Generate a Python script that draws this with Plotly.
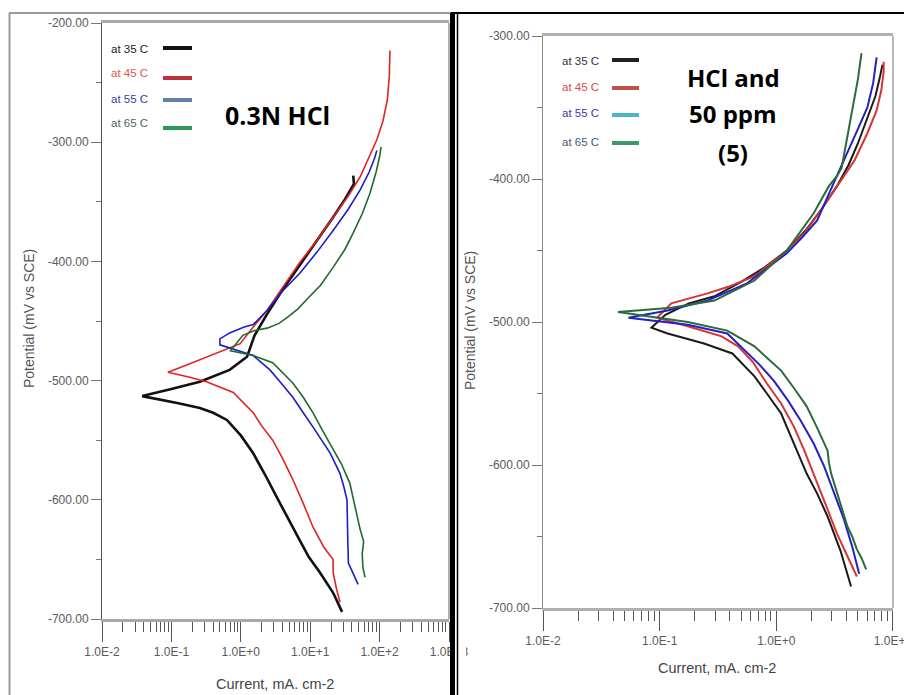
import plotly.graph_objects as go

# page places the figure 8px in from the top-left corner
OFF = 8
W, H = 912 - OFF, 695 - OFF

# ---------------- data (current in mA/cm2, potential in mV vs SCE) ----------------
series_names = ["at 35 C", "at 45 C", "at 55 C", "at 65 C"]

# Left panel: 0.3N HCl
L35_i = [28.8, 21.4, 13.8, 9.55, 7.08, 4.79, 3.31, 2.24, 1.51, 1.0, 0.63, 0.40, 0.257, 0.126, 0.069, 0.038,
         0.10, 0.257, 0.69, 1.23, 1.58, 2.4, 3.98, 7.08, 12.6, 21.4, 31.6, 42.7, 41.7]
L35_e = [-694, -678, -661, -648, -634, -616, -598, -579, -561, -546, -533, -527, -523, -519, -516, -513,
         -507, -501, -491, -480, -462, -444, -424, -403, -383, -363, -348, -335, -328]

L45_i = [26.9, 24.0, 21.4, 21.4, 15.8, 11.0, 7.94, 5.62, 3.98, 2.88, 2.0, 1.51, 0.78, 0.32, 0.178, 0.089,
         0.166, 0.50, 0.98, 1.51, 2.4, 3.98, 7.08, 12.6, 21.4, 35.5, 52.5, 70.8, 91.2, 112, 129, 138, 141]
L45_e = [-686, -675, -661, -650, -640, -623, -603, -583, -565, -550, -538, -527, -510, -501, -497, -493,
         -487, -476, -469, -455, -441, -422, -401, -382, -363, -345, -329, -313, -298, -282, -265, -245, -223]

L55_i = [49.0, 41.7, 35.5, 34.7, 33.9, 30.2, 26.9, 19.5, 14.8, 11.0, 7.94, 5.62, 3.8, 2.63, 1.51, 0.78, 0.50,
         0.50, 0.69, 1.12, 1.51, 2.4, 3.98, 7.08, 12.6, 21.4, 35.5, 52.5, 70.8, 85.1, 91.2]
L55_e = [-671, -662, -653, -630, -600, -588, -578, -561, -550, -539, -527, -514, -502, -491, -479, -474, -470,
         -465, -460, -455, -453, -441, -425, -410, -392, -374, -356, -340, -325, -313, -307]

L65_i = [61.7, 57.5, 56.2, 58.9, 52.5, 49.0, 42.7, 37.2, 28.2, 21.4, 15.1, 11.0, 7.94, 5.62, 2.88, 1.51, 0.78,
         0.71, 1.07, 1.58, 2.4, 3.55, 4.68, 6.6, 8.91, 14.1, 21.4, 31.6, 41.7, 56.2, 72.4, 89.1, 100, 105]
L65_e = [-665, -657, -645, -635, -625, -617, -600, -586, -570, -558, -542, -527, -514, -502, -485, -479, -476,
         -475, -462, -458, -456, -452, -447, -440, -432, -420, -405, -390, -376, -360, -343, -325, -312, -304]

# Right panel: HCl and 50 ppm (5)
R35_i = [4.37, 3.55, 2.75, 2.24, 1.82, 1.41, 1.10, 0.83, 0.65, 0.42, 0.24, 0.117, 0.085,
         0.112, 0.178, 0.295, 0.50, 0.79, 1.23, 1.78, 2.4, 3.31, 4.17, 5.01, 6.03, 7.08, 7.76, 8.13]
R35_e = [-685, -660, -636, -620, -606, -585, -564, -550, -538, -522, -515, -508, -504,
         -495, -487, -482, -472, -462, -450, -436, -422, -405, -390, -375, -358, -342, -328, -320]

R45_i = [4.9, 3.98, 3.31, 2.63, 2.09, 1.74, 1.41, 1.10, 0.83, 0.63, 0.47, 0.34, 0.174, 0.095,
         0.126, 0.257, 0.40, 0.65, 1.23, 1.78, 2.4, 3.31, 4.68, 6.03, 7.24, 7.94, 8.32, 8.32]
R45_e = [-678, -662, -648, -627, -606, -590, -573, -557, -543, -528, -517, -510, -503, -497,
         -487, -480, -475, -468, -450, -437, -422, -405, -387, -368, -352, -338, -325, -318]

R55_i = [5.13, 4.47, 3.8, 3.16, 2.57, 2.09, 1.62, 1.26, 0.95, 0.72, 0.54, 0.38, 0.174, 0.054,
         0.117, 0.257, 0.56, 1.23, 1.66, 2.24, 3.02, 4.07, 5.01, 6.03, 6.76, 7.24]
R55_e = [-676, -657, -638, -620, -601, -585, -569, -555, -541, -530, -520, -508, -502, -497,
         -492, -485, -473, -452, -441, -429, -405, -382, -365, -350, -333, -315]

R65_i = [5.89, 5.37, 4.9, 4.47, 4.07, 3.47, 2.95, 2.82, 2.75, 2.24, 1.82, 1.41, 1.10, 0.83, 0.65, 0.38, 0.174, 0.044,
         0.126, 0.295, 0.65, 1.23, 2.09, 2.82, 3.31, 3.63, 3.98, 4.37, 4.68, 5.01, 5.37]
R65_e = [-673, -665, -659, -650, -643, -625, -606, -598, -590, -574, -559, -546, -534, -525, -517, -506, -500, -493,
         -490, -485, -471, -450, -424, -405, -398, -392, -375, -358, -345, -330, -312]

x_tick_vals_left = [0.01, 0.1, 1, 10, 100, 1000]
x_tick_text_left = ["1.0E-2", "1.0E-1", "1.0E+0", "1.0E+1", "1.0E+2", "1.0E+3"]
x_tick_vals_right = [0.01, 0.1, 1, 10]
x_tick_text_right = ["1.0E-2", "1.0E-1", "1.0E+0", "1.0E+1"]
y_tick_vals_left = [-700, -600, -500, -400, -300, -200]
y_tick_vals_right = [-700, -600, -500, -400, -300]

left_colors = ["#111111", "#e02424", "#1c1ccc", "#1f6a2c"]
right_colors = ["#1a1a1a", "#d83434", "#2222c4", "#2b6a3c"]
leg_text_left = ["#222222", "#e0584a", "#3a3aa8", "#4a6a5a"]
leg_key_left = ["#111111", "#c0303a", "#6680a8", "#2a9a5a"]
leg_text_right = ["#333333", "#e04848", "#3a3aa8", "#4a5a6a"]
leg_key_right = ["#222222", "#c0504a", "#48b4d0", "#3a9a6a"]

# ---------------- figure ----------------
fig = go.Figure()
left = [(L35_i, L35_e), (L45_i, L45_e), (L55_i, L55_e), (L65_i, L65_e)]
right = [(R35_i, R35_e), (R45_i, R45_e), (R55_i, R55_e), (R65_i, R65_e)]
left_w = [2.6, 1.6, 1.6, 1.6]
for k, (xi, ye) in enumerate(left):
    fig.add_trace(go.Scatter(x=xi, y=ye, mode="lines", name=series_names[k],
                             line=dict(color=left_colors[k], width=left_w[k]),
                             xaxis="x", yaxis="y", showlegend=False))
for k, (xi, ye) in enumerate(right):
    fig.add_trace(go.Scatter(x=xi, y=ye, mode="lines", name=series_names[k],
                             line=dict(color=right_colors[k], width=2),
                             xaxis="x2", yaxis="y2", showlegend=False))


def px(x):
    return (x - OFF) / W


def py(y):
    return 1 - (y - OFF) / H


def minor_vals(lo, hi):
    out = []
    for d in range(lo, hi):
        for m in range(2, 10):
            out.append(m * 10.0 ** d)
    return out


narrow = "Liberation Sans Narrow, Arial Narrow, Liberation Sans, sans-serif"
tickfont = dict(family=narrow, size=12, color="#5a5a5a")

common_x = dict(type="log", showgrid=False, zeroline=False, showline=True, linecolor="#a8a8a8",
                linewidth=3, mirror=True, ticks="outside", ticklen=20, tickcolor="#555555", tickwidth=1,
                tickfont=tickfont, tickmode="array", automargin=False, ticklabeloverflow="allow")
common_y = dict(showgrid=False, zeroline=False, showline=True, linecolor="#555555", linewidth=1,
                ticks="outside", ticklen=10, tickcolor="#777777", tickwidth=1, tickfont=tickfont,
                tickmode="array", automargin=False)

fig.update_layout(
    width=W, height=H, margin=dict(l=0, r=0, t=0, b=0, autoexpand=False),
    paper_bgcolor="white", plot_bgcolor="white",
    xaxis=dict(common_x, domain=[px(102), px(449)], range=[-2, 3], anchor="y",
               tickvals=x_tick_vals_left, ticktext=x_tick_text_left,
               minor=dict(tickmode="array", tickvals=minor_vals(-2, 3), ticks="outside", ticklen=10,
                          tickcolor="#555555", showgrid=False)),
    yaxis=dict(common_y, domain=[py(619), py(23)], range=[-700, -200], anchor="x",
               tickvals=y_tick_vals_left, ticktext=["%.2f" % v for v in y_tick_vals_left],
               minor=dict(tickmode="array", tickvals=[v + 50 for v in y_tick_vals_left[:-1]],
                          ticks="outside", ticklen=5, tickcolor="#777777", showgrid=False)),
    xaxis2=dict(common_x, domain=[px(543), px(893)], range=[-2, 1.0001], anchor="y2",
                tickvals=x_tick_vals_right, ticktext=x_tick_text_right, linecolor="#b0b0b0",
                minor=dict(tickmode="array", tickvals=minor_vals(-2, 1), ticks="outside", ticklen=10,
                           tickcolor="#555555", showgrid=False)),
    yaxis2=dict(common_y, domain=[py(608), py(36)], range=[-700, -300], anchor="x2",
                tickvals=y_tick_vals_right, ticktext=["%.2f" % v for v in y_tick_vals_right],
                linecolor="#888888",
                minor=dict(tickmode="array", tickvals=[v + 50 for v in y_tick_vals_right[:-1]],
                           ticks="outside", ticklen=5, tickcolor="#777777", showgrid=False)),
)

shapes = []
# right frame lines of plot boxes
shapes.append(dict(type="line", xref="x domain", yref="y domain", x0=1, x1=1, y0=0, y1=1,
                   line=dict(color="#b0b0b0", width=2)))
shapes.append(dict(type="line", xref="x2 domain", yref="y2 domain", x0=1, x1=1, y0=0, y1=1,
                   line=dict(color="#b8b8b8", width=2)))
# white cover so the left panel's last tick label is clipped by the separator
shapes.append(dict(type="rect", xref="paper", yref="paper", x0=px(455), x1=px(466), y0=py(668), y1=py(640),
                   fillcolor="white", line=dict(width=0), layer="above"))
# outer panel frames
shapes.append(dict(type="line", xref="paper", yref="paper", x0=px(9.5), x1=px(9.5), y0=0, y1=py(13),
                   line=dict(color="#9a9a9a", width=2)))
shapes.append(dict(type="line", xref="paper", yref="paper", x0=px(9), x1=px(451), y0=py(13), y1=py(13),
                   line=dict(color="#9a9a9a", width=2)))
shapes.append(dict(type="line", xref="paper", yref="paper", x0=px(452.5), x1=px(452.5), y0=0, y1=py(13),
                   line=dict(color="#000000", width=5), layer="above"))
shapes.append(dict(type="line", xref="paper", yref="paper", x0=px(457.5), x1=px(457.5), y0=0, y1=py(13),
                   line=dict(color="#000000", width=1.5), layer="above"))
shapes.append(dict(type="line", xref="paper", yref="paper", x0=px(451), x1=1, y0=py(13), y1=py(13),
                   line=dict(color="#000000", width=2)))

annotations = []
# custom legends (text then key)
for k, name in enumerate(series_names):
    ty = [49, 73, 99, 123][k]
    ky = [48, 78, 100, 128][k]
    annotations.append(dict(x=px(150), y=py(ty), xref="paper", yref="paper", text=name, showarrow=False,
                            xanchor="right", yanchor="middle",
                            font=dict(family=narrow, size=11.5, color=leg_text_left[k])))
    shapes.append(dict(type="line", xref="paper", yref="paper", x0=px(163), x1=px(192), y0=py(ky), y1=py(ky),
                       line=dict(color=leg_key_left[k], width=4)))
    ty2 = [61, 87, 113, 142][k]
    ky2 = [60, 88, 115, 143][k]
    annotations.append(dict(x=px(601), y=py(ty2), xref="paper", yref="paper", text=name, showarrow=False,
                            xanchor="right", yanchor="middle",
                            font=dict(family=narrow, size=11.5, color=leg_text_right[k])))
    shapes.append(dict(type="line", xref="paper", yref="paper", x0=px(612), x1=px(639), y0=py(ky2), y1=py(ky2),
                       line=dict(color=leg_key_right[k], width=4)))

# panel labels
bold = "Open Sans, Noto Sans, sans-serif"
annotations.append(dict(x=px(277), y=py(115), xref="paper", yref="paper", text="<b>0.3N HCl</b>",
                        xanchor="center", yanchor="middle",
                        showarrow=False, font=dict(family=bold, size=25, color="#000")))
for txt, yy in [("HCl and", 77), ("50 ppm", 113), ("(5)", 152)]:
    annotations.append(dict(x=px(733), y=py(yy), xref="paper", yref="paper", text="<b>%s</b>" % txt,
                            xanchor="center", yanchor="middle",
                            showarrow=False, font=dict(family=bold, size=24, color="#000")))

# axis titles
titlefont = dict(family="Liberation Sans, Arial, sans-serif", size=14, color="#555555")
annotations.append(dict(x=px(29), y=py(319), xref="paper", yref="paper", text="Potential (mV vs SCE)",
                        xanchor="center", yanchor="middle",
                        textangle=-90, showarrow=False, font=titlefont))
annotations.append(dict(x=px(470), y=py(320), xref="paper", yref="paper", text="Potential (mV vs SCE)",
                        xanchor="center", yanchor="middle",
                        textangle=-90, showarrow=False, font=titlefont))
xtfont = dict(family=narrow, size=14.5, color="#444444")
annotations.append(dict(x=px(275), y=py(684), xref="paper", yref="paper", text="Current, mA. cm-2",
                        xanchor="center", yanchor="middle",
                        showarrow=False, font=xtfont))
annotations.append(dict(x=px(717), y=py(668), xref="paper", yref="paper", text="Current, mA. cm-2",
                        xanchor="center", yanchor="middle",
                        showarrow=False, font=xtfont))

fig.update_layout(shapes=shapes, annotations=annotations)
fig.write_html("out.html")
